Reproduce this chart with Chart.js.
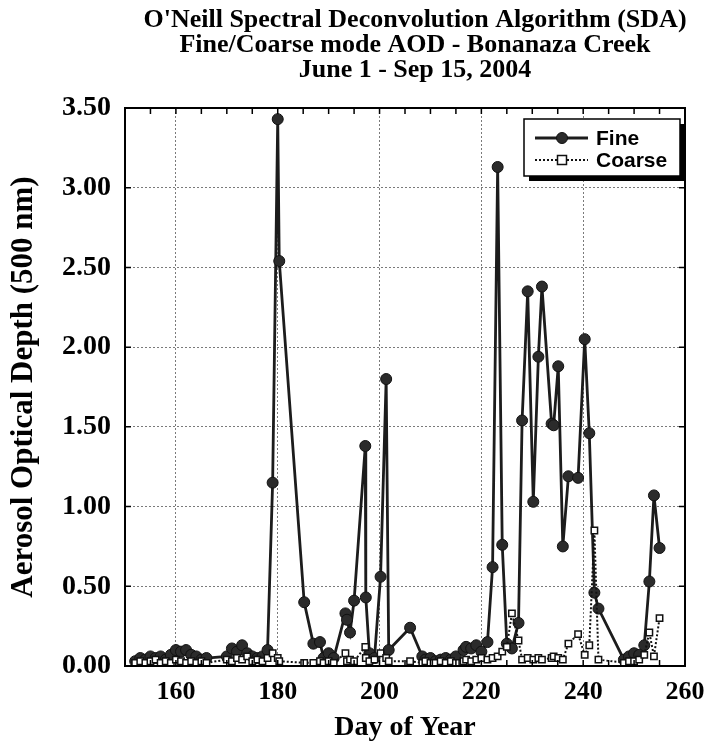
<!DOCTYPE html>
<html>
<head>
<meta charset="utf-8">
<script src="https://cdn.jsdelivr.net/npm/chart.js@4.4.1/dist/chart.umd.min.js"></script>
<style>
  body { margin: 0; background: #fff; }
  #wrap { width: 709px; height: 746px; }
</style>
</head>
<body>
<div id="wrap"><canvas id="aodChart" width="709" height="746"></canvas></div>
<script>
// day of year (fractional where two retrievals fall on the same day)
const fineDays = [152, 153, 154, 155, 156, 157, 158, 159, 160, 161, 162, 163, 164, 165, 166,
  170, 171, 172, 173, 174, 175, 176, 177, 178, 179, 180, 180.3, 185.2, 187, 188.3, 189, 190, 191,
  193.3, 193.6, 194.2, 195, 197.2, 197.3, 198, 199, 200.2, 201.3, 201.8, 206, 208.4, 209, 210,
  211, 212, 213, 214, 215, 216.5, 217, 218, 219, 220, 221.2, 222.2, 223.2, 224.1, 225, 226,
  227.3, 228, 229.1, 230.2, 231.2, 231.9, 233.8, 234.2, 235.1, 236, 237.1, 239, 240.3, 241.2,
  242.2, 243, 248, 249, 250, 251, 252, 253, 253.9, 255];
const fineAOD = [0.03, 0.05, 0.04, 0.06, 0.05, 0.06, 0.04, 0.07, 0.10, 0.09, 0.10, 0.07, 0.06, 0.04, 0.05,
  0.06, 0.11, 0.09, 0.13, 0.08, 0.06, 0.05, 0.06, 0.10, 1.15, 3.43, 2.54, 0.40, 0.14, 0.15, 0.05, 0.08, 0.05,
  0.33, 0.29, 0.21, 0.41, 1.38, 0.43, 0.08, 0.05, 0.56, 1.80, 0.10, 0.24, 0.06, 0.04, 0.05,
  0.03, 0.04, 0.05, 0.04, 0.06, 0.10, 0.12, 0.11, 0.13, 0.09, 0.15, 0.62, 3.13, 0.76, 0.14, 0.11,
  0.27, 1.54, 2.35, 1.03, 1.94, 2.38, 1.52, 1.51, 1.88, 0.75, 1.19, 1.18, 2.05, 1.46,
  0.46, 0.36, 0.04, 0.06, 0.08, 0.07, 0.13, 0.53, 1.07, 0.74];

const coarseDays = fineDays;
const coarseAOD = [0.02, 0.03, 0.02, 0.03, 0.04, 0.02, 0.03, 0.02, 0.04, 0.03, 0.02, 0.03, 0.02, 0.03, 0.02,
  0.04, 0.03, 0.05, 0.04, 0.06, 0.03, 0.04, 0.03, 0.05, 0.08, 0.05, 0.03, 0.02, 0.02, 0.03, 0.02, 0.03, 0.02,
  0.08, 0.03, 0.04, 0.03, 0.12, 0.05, 0.03, 0.04, 0.08, 0.05, 0.03, 0.03, 0.02, 0.03, 0.02,
  0.02, 0.03, 0.02, 0.03, 0.02, 0.03, 0.04, 0.03, 0.04, 0.05, 0.04, 0.05, 0.06, 0.09, 0.12, 0.33,
  0.16, 0.04, 0.05, 0.04, 0.05, 0.04, 0.05, 0.06, 0.05, 0.04, 0.14, 0.20, 0.07, 0.13,
  0.85, 0.04, 0.02, 0.03, 0.03, 0.04, 0.07, 0.21, 0.06, 0.30];

const xLabelDays = [160, 180, 200, 220, 240, 260];
const titleLines = [
  "O'Neill Spectral Deconvolution Algorithm (SDA)",
  "Fine/Coarse mode AOD - Bonanaza Creek",
  "June 1 - Sep 15, 2004"
];

const serif = "'Liberation Serif', 'Times New Roman', serif";
const toPoints = (days, vals) => days.map((d, i) => ({ x: d, y: vals[i] }));

// three-line heading, frame with inward ticks, boxed legend
const framePlugin = {
  id: "frame",
  afterDraw(chart) {
    const { ctx, chartArea: a, scales } = chart;
    ctx.save();

    ctx.fillStyle = "#000";
    ctx.font = "bold 26px " + serif;
    ctx.textAlign = "center";
    ctx.textBaseline = "middle";
    const cx = (a.left + a.right) / 2 + 10;
    titleLines.forEach((t, i) => ctx.fillText(t, cx, 20 + i * 25));
    ctx.textAlign = "left";

    ctx.strokeStyle = "#000";
    ctx.lineWidth = 2;
    ctx.strokeRect(a.left, a.top, a.right - a.left, a.bottom - a.top);
    ctx.lineWidth = 1.5;
    ctx.beginPath();
    for (let d = 150; d <= 260; d += 5) {
      const px = scales.x.getPixelForValue(d);
      ctx.moveTo(px, a.top); ctx.lineTo(px, a.top + 6);
      ctx.moveTo(px, a.bottom); ctx.lineTo(px, a.bottom - 6);
    }
    for (let v = 0; v <= 3.5; v += 0.5) {
      const py = scales.y.getPixelForValue(v);
      ctx.moveTo(a.left, py); ctx.lineTo(a.left + 6, py);
      ctx.moveTo(a.right, py); ctx.lineTo(a.right - 6, py);
    }
    ctx.stroke();

    // legend
    const w = 156, h = 57;
    const lx = a.right - w - 5, ly = a.top + 11;
    ctx.fillStyle = "#000";
    ctx.fillRect(lx + 5, ly + 5, w, h);
    ctx.fillStyle = "#fff";
    ctx.fillRect(lx, ly, w, h);
    ctx.lineWidth = 1.5;
    ctx.strokeRect(lx, ly, w, h);
    ["Fine", "Coarse"].forEach((name, i) => {
      const ds = chart.data.datasets.find(d => d.label === name);
      const cy = ly + 19 + i * 22;
      ctx.save();
      ctx.strokeStyle = ds.borderColor;
      ctx.lineWidth = ds.borderWidth;
      ctx.setLineDash(ds.borderDash || []);
      ctx.beginPath();
      ctx.moveTo(lx + 11, cy); ctx.lineTo(lx + 64, cy);
      ctx.stroke();
      ctx.restore();
      ctx.save();
      ctx.fillStyle = ds.pointBackgroundColor;
      ctx.strokeStyle = ds.pointBorderColor;
      ctx.lineWidth = ds.pointBorderWidth;
      ctx.beginPath();
      const r = ds.pointRadius;
      if (ds.pointStyle === "circle") {
        ctx.arc(lx + 38, cy, r, 0, Math.PI * 2);
      } else {
        ctx.rect(lx + 38 - r, cy - r, r * 2, r * 2);
      }
      ctx.fill();
      ctx.stroke();
      ctx.restore();
      ctx.fillStyle = "#000";
      ctx.font = "bold 21px 'Liberation Sans', Arial, sans-serif";
      ctx.textBaseline = "middle";
      ctx.fillText(name, lx + 72, cy + 1);
    });
    ctx.restore();
  }
};

new Chart(document.getElementById("aodChart"), {
  type: "line",
  data: {
    datasets: [
      {
        label: "Coarse",
        data: toPoints(coarseDays, coarseAOD),
        order: 1,
        borderColor: "#111",
        borderWidth: 2,
        borderDash: [2, 2],
        pointStyle: "rect",
        pointRadius: 4.5,
        pointBackgroundColor: "#fff",
        pointBorderColor: "#111",
        pointBorderWidth: 1.5,
        tension: 0
      },
      {
        label: "Fine",
        data: toPoints(fineDays, fineAOD),
        order: 2,
        borderColor: "#1c1c1c",
        borderWidth: 2.8,
        pointStyle: "circle",
        pointRadius: 5.5,
        pointBackgroundColor: "#2b2b2b",
        pointBorderColor: "#111",
        pointBorderWidth: 1,
        tension: 0
      }
    ]
  },
  options: {
    responsive: false,
    animation: false,
    layout: { padding: { left: 0, right: 24, top: 108, bottom: 0 } },
    plugins: {
      legend: { display: false },
      tooltip: { enabled: false },
      title: { display: false }
    },
    scales: {
      x: {
        type: "linear",
        min: 150,
        max: 260,
        afterFit: s => { s.height = 80; s.paddingRight = 0; s.paddingLeft = 0; },
        ticks: {
          stepSize: 5,
          autoSkip: false,
          maxRotation: 0,
          padding: 11,
          color: "#000",
          font: { family: serif, size: 26, weight: "bold" },
          callback: v => xLabelDays.includes(v) ? String(v) : ""
        },
        grid: {
          drawTicks: false,
          lineWidth: 1,
          color: c => (xLabelDays.includes(c.tick.value) && c.tick.value < 260) ? "#7a7a7a" : "rgba(0,0,0,0)"
        },
        border: { display: false, dash: [2, 2] },
        title: {
          display: true,
          text: "Day of Year",
          color: "#000",
          font: { family: serif, size: 28, weight: "bold" },
          padding: { top: 0, bottom: 1 }
        }
      },
      y: {
        min: 0,
        max: 3.5,
        afterFit: s => { s.width = 125; },
        ticks: {
          stepSize: 0.5,
          padding: 14,
          color: "#000",
          font: { family: serif, size: 28, weight: "bold" },
          callback: v => v.toFixed(2)
        },
        grid: {
          drawTicks: false,
          lineWidth: 1,
          color: c => (c.tick.value > 0 && c.tick.value < 3.5) ? "#7a7a7a" : "rgba(0,0,0,0)"
        },
        border: { display: false, dash: [2, 2] },
        title: {
          display: true,
          text: "Aerosol Optical Depth (500 nm)",
          color: "#000",
          font: { family: serif, size: 31, weight: "bold" },
          padding: { top: 5, bottom: 0 }
        }
      }
    }
  },
  plugins: [framePlugin]
});
</script>
</body>
</html>
